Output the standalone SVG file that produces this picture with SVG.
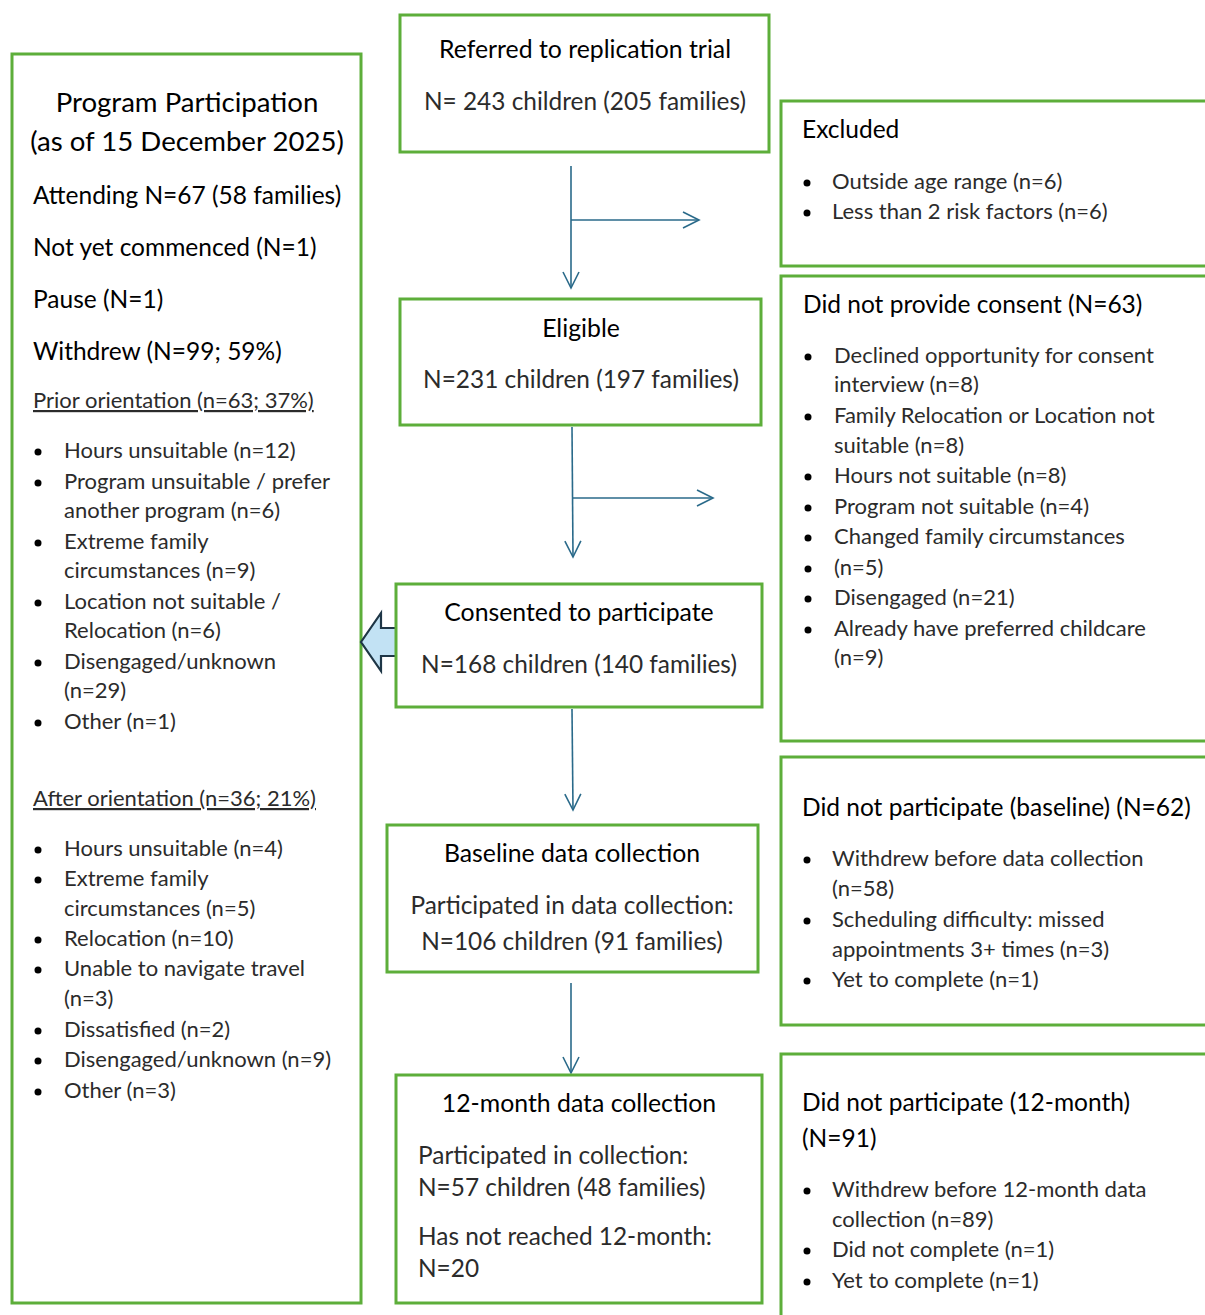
<svg xmlns="http://www.w3.org/2000/svg" width="1205" height="1315" viewBox="0 0 1205 1315">
<defs>
<marker id="open" viewBox="0 0 20 20" refX="18" refY="10" markerWidth="20" markerHeight="20" markerUnits="userSpaceOnUse" orient="auto">
<path d="M2,2 L18,10 L2,18" fill="none" stroke="#2A6A8A" stroke-width="1.6"/>
</marker>
<style>
.box{fill:#fff;stroke:#5DAE3A;stroke-width:3}
.h{font-family:Lato,"Liberation Sans",sans-serif;font-size:24.5px;fill:#000}
.hc{font-family:Lato,"Liberation Sans",sans-serif;font-size:24.8px;fill:#000;text-anchor:middle}
.t{font-size:27.6px}
.b{font-family:Lato,"Liberation Sans",sans-serif;font-size:22px;fill:#2b2b2b}
.bc{font-family:Lato,"Liberation Sans",sans-serif;font-size:24.4px;fill:#2b2b2b;text-anchor:middle}
.bl{font-family:Lato,"Liberation Sans",sans-serif;font-size:24.4px;fill:#2b2b2b}
.u{text-decoration:underline}
.dot{fill:#000}
.conn{fill:none;stroke:#2A6A8A;stroke-width:1.6}
</style>
</defs>

<g id="connectors">
<path class="conn" d="M571,166 V288" marker-end="url(#open)"/>
<path class="conn" d="M571,220 H699" marker-end="url(#open)"/>
<path class="conn" d="M572,427 L573,557" marker-end="url(#open)"/>
<path class="conn" d="M573,498 H713" marker-end="url(#open)"/>
<path class="conn" d="M572,709 L573,810" marker-end="url(#open)"/>
<path class="conn" d="M571,983 V1073" marker-end="url(#open)"/>
</g>

<g id="program-participation">
<rect class="box" x="12" y="54" width="349" height="1249"/>
<text class="hc t" x="187" y="112">Program Participation</text>
<text class="hc t" x="187" y="151">(as of 15 December 2025)</text>
<text class="h" x="33" y="204">Attending N=67 (58 families)</text>
<text class="h" x="33" y="256">Not yet commenced (N=1)</text>
<text class="h" x="33" y="308">Pause (N=1)</text>
<text class="h" x="33" y="360">Withdrew (N=99; 59%)</text>
<text class="b u" x="33" y="408">Prior orientation (n=63; 37%)</text>
<g class="dot">
<circle cx="38" cy="452" r="3.5"/><circle cx="38" cy="483" r="3.5"/><circle cx="38" cy="543" r="3.5"/><circle cx="38" cy="603" r="3.5"/><circle cx="38" cy="663" r="3.5"/><circle cx="38" cy="723" r="3.5"/>
<circle cx="38" cy="850" r="3.5"/><circle cx="38" cy="880" r="3.5"/><circle cx="38" cy="940" r="3.5"/><circle cx="38" cy="970" r="3.5"/><circle cx="38" cy="1031" r="3.5"/><circle cx="38" cy="1061" r="3.5"/><circle cx="38" cy="1092" r="3.5"/>
</g>
<text class="b" x="64" y="458">Hours unsuitable (n=12)</text>
<text class="b" x="64" y="489">Program unsuitable / prefer</text>
<text class="b" x="64" y="518">another program (n=6)</text>
<text class="b" x="64" y="549">Extreme family</text>
<text class="b" x="64" y="578">circumstances (n=9)</text>
<text class="b" x="64" y="609">Location not suitable /</text>
<text class="b" x="64" y="638">Relocation (n=6)</text>
<text class="b" x="64" y="669">Disengaged/unknown</text>
<text class="b" x="64" y="698">(n=29)</text>
<text class="b" x="64" y="729">Other (n=1)</text>
<text class="b u" x="33" y="806">After orientation (n=36; 21%)</text>
<text class="b" x="64" y="856">Hours unsuitable (n=4)</text>
<text class="b" x="64" y="886">Extreme family</text>
<text class="b" x="64" y="916">circumstances (n=5)</text>
<text class="b" x="64" y="946">Relocation (n=10)</text>
<text class="b" x="64" y="976">Unable to navigate travel</text>
<text class="b" x="64" y="1006">(n=3)</text>
<text class="b" x="64" y="1037">Dissatisfied (n=2)</text>
<text class="b" x="64" y="1067">Disengaged/unknown (n=9)</text>
<text class="b" x="64" y="1098">Other (n=3)</text>
</g>

<g id="block-arrow">
<path d="M361,642 L381,613 L381,628 L397,628 L397,656 L381,656 L381,671 Z" fill="#C2E2F4" stroke="#1E3646" stroke-width="2.2" stroke-linejoin="miter"/>
</g>

<g id="referred">
<rect class="box" x="400" y="15" width="369" height="137"/>
<text class="hc" x="585" y="58">Referred to replication trial</text>
<text class="bc" x="585" y="110">N= 243 children (205 families)</text>
</g>

<g id="excluded">
<rect class="box" x="781" y="101" width="434" height="165"/>
<text class="h" x="802" y="138">Excluded</text>
<circle class="dot" cx="807" cy="183" r="3.5"/><circle class="dot" cx="807" cy="213" r="3.5"/>
<text class="b" x="832" y="189">Outside age range (n=6)</text>
<text class="b" x="832" y="219">Less than 2 risk factors (n=6)</text>
</g>

<g id="eligible">
<rect class="box" x="400" y="299" width="361" height="126"/>
<text class="hc" x="581" y="337">Eligible</text>
<text class="bc" x="581" y="388">N=231 children (197 families)</text>
</g>

<g id="no-consent">
<rect class="box" x="781" y="276" width="434" height="465"/>
<text class="h" x="803" y="313">Did not provide consent (N=63)</text>
<g class="dot">
<circle cx="808" cy="357" r="3.5"/><circle cx="808" cy="417" r="3.5"/><circle cx="808" cy="477" r="3.5"/><circle cx="808" cy="508" r="3.5"/><circle cx="808" cy="538" r="3.5"/><circle cx="808" cy="569" r="3.5"/><circle cx="808" cy="599" r="3.5"/><circle cx="808" cy="630" r="3.5"/>
</g>
<text class="b" x="834" y="363">Declined opportunity for consent</text>
<text class="b" x="834" y="392">interview (n=8)</text>
<text class="b" x="834" y="423">Family Relocation or Location not</text>
<text class="b" x="834" y="453">suitable (n=8)</text>
<text class="b" x="834" y="483">Hours not suitable (n=8)</text>
<text class="b" x="834" y="514">Program not suitable (n=4)</text>
<text class="b" x="834" y="544">Changed family circumstances</text>
<text class="b" x="834" y="575">(n=5)</text>
<text class="b" x="834" y="605">Disengaged (n=21)</text>
<text class="b" x="834" y="636">Already have preferred childcare</text>
<text class="b" x="834" y="665">(n=9)</text>
</g>

<g id="consented">
<rect class="box" x="396" y="584" width="366" height="123"/>
<text class="hc" x="579" y="621">Consented to participate</text>
<text class="bc" x="579" y="673">N=168 children (140 families)</text>
</g>

<g id="no-baseline">
<rect class="box" x="781" y="757" width="434" height="268"/>
<text class="h" x="802" y="816">Did not participate (baseline) (N=62)</text>
<g class="dot">
<circle cx="807" cy="860" r="3.5"/><circle cx="807" cy="921" r="3.5"/><circle cx="807" cy="981" r="3.5"/>
</g>
<text class="b" x="832" y="866">Withdrew before data collection</text>
<text class="b" x="832" y="896">(n=58)</text>
<text class="b" x="832" y="927">Scheduling difficulty: missed</text>
<text class="b" x="832" y="957">appointments 3+ times (n=3)</text>
<text class="b" x="832" y="987">Yet to complete (n=1)</text>
</g>

<g id="baseline">
<rect class="box" x="387" y="825" width="371" height="147"/>
<text class="hc" x="572" y="862">Baseline data collection</text>
<text class="bc" x="572" y="914">Participated in data collection:</text>
<text class="bc" x="572" y="950">N=106 children (91 families)</text>
</g>

<g id="twelve-month">
<rect class="box" x="396" y="1075" width="366" height="228"/>
<text class="hc" x="579" y="1112">12-month data collection</text>
<text class="bl" x="418" y="1164">Participated in collection:</text>
<text class="bl" x="418" y="1196">N=57 children (48 families)</text>
<text class="bl" x="418" y="1245">Has not reached 12-month:</text>
<text class="bl" x="418" y="1277">N=20</text>
</g>

<g id="no-twelve-month">
<rect class="box" x="781" y="1054" width="434" height="280"/>
<text class="h" x="802" y="1111">Did not participate (12-month)</text>
<text class="h" x="802" y="1147">(N=91)</text>
<g class="dot">
<circle cx="807" cy="1191" r="3.5"/><circle cx="807" cy="1251" r="3.5"/><circle cx="807" cy="1282" r="3.5"/>
</g>
<text class="b" x="832" y="1197">Withdrew before 12-month data</text>
<text class="b" x="832" y="1227">collection (n=89)</text>
<text class="b" x="832" y="1257">Did not complete (n=1)</text>
<text class="b" x="832" y="1288">Yet to complete (n=1)</text>
</g>
</svg>
